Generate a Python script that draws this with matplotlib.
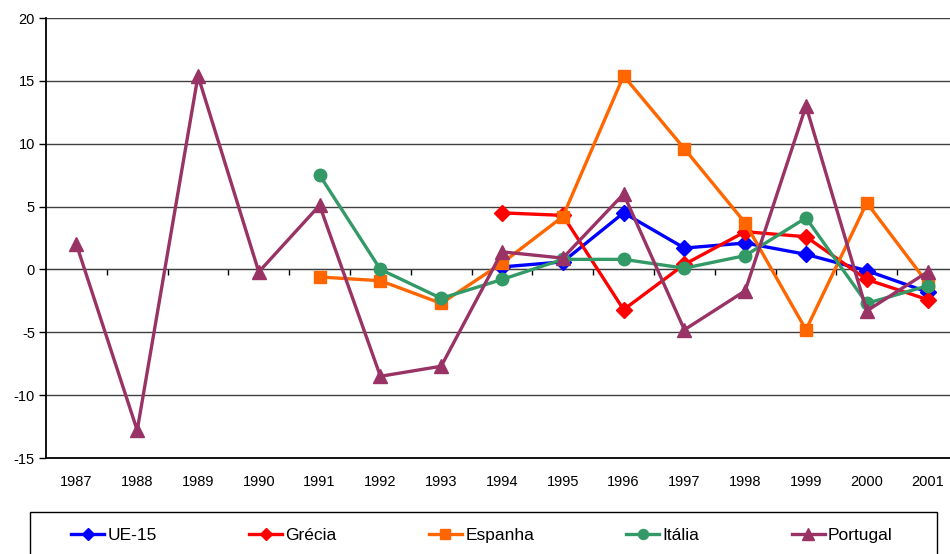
import matplotlib

matplotlib.use("Agg")
import matplotlib.pyplot as plt
import numpy as np
from matplotlib.patches import Rectangle

plt.rcParams["font.family"] = ["Liberation Sans", "DejaVu Sans"]
plt.rcParams["axes.unicode_minus"] = False

years = list(range(1987, 2002))
nan = np.nan

ue15 = [nan] * 7 + [0.2, 0.6, 4.5, 1.7, 2.1, 1.2, -0.1, -1.8]
grecia = [nan] * 7 + [4.5, 4.3, -3.2, 0.4, 3.0, 2.6, -0.8, -2.4]
espanha = [nan] * 4 + [-0.6, -0.9, -2.7, 0.5, 4.2, 15.4, 9.6, 3.7, -4.8, 5.3, -1.1]
italia = [nan] * 4 + [7.5, 0.0, -2.3, -0.8, 0.8, 0.8, 0.1, 1.1, 4.1, -2.7, -1.3]
portugal = [2.0, -12.8, 15.4, -0.2, 5.1, -8.5, -7.7, 1.4, 0.9, 6.0, -4.8, -1.7, 13.0, -3.3, -0.2]

series = [
    ("UE-15", ue15, "#0000FF", "D", 8),
    ("Grécia", grecia, "#FF0000", "D", 8),
    ("Espanha", espanha, "#FF6600", "s", 9),
    ("Itália", italia, "#339966", "o", 9),
    ("Portugal", portugal, "#993366", "^", 10),
]

fig = plt.figure(figsize=(9.5, 5.54), dpi=100)
ax = fig.add_axes([46 / 950, 1 - 458 / 554, (958 - 46) / 950, (458 - 18) / 554])

for name, vals, color, marker, ms in series:
    ax.plot(years, vals, color=color, marker=marker, markersize=ms, linewidth=2.4,
            markeredgecolor=color, label=name)

ax.set_xlim(1986.5, 2001.5)
ax.set_ylim(-15, 20)
ax.set_yticks(range(-15, 21, 5))
ax.set_xticks(years)
ax.tick_params(axis="x", length=0, labelsize=10.5, pad=12)
ax.tick_params(axis="y", length=5, width=1, labelsize=10.5, pad=3)
ax.grid(axis="y", color="#404040", linewidth=1)
ax.set_axisbelow(True)
ax.spines["top"].set_visible(False)
ax.spines["right"].set_visible(False)
ax.spines["left"].set_linewidth(1.3)
ax.spines["bottom"].set_linewidth(1.3)

# category axis crossing at zero, with boundary ticks
sec = ax.secondary_xaxis(15 / 35)
sec.set_xticks(np.arange(1987.5, 2001.5, 1.0))
sec.tick_params(axis="x", direction="out", length=4, width=1, labelbottom=False, labeltop=False)
sec.spines["bottom"].set_color("#404040")
sec.spines["top"].set_visible(False)

# legend box running off the bottom edge, as in the source
top = 1 - 512 / 554
fig.patches.append(Rectangle((30 / 950, -0.05), 907 / 950, top + 0.05, transform=fig.transFigure,
                             facecolor="white", edgecolor="black", linewidth=1.0, zorder=0))
leg = fig.legend(loc="center", bbox_to_anchor=(482 / 950, 1 - 535 / 554), ncol=5,
                 fontsize=12.5, frameon=False, handlelength=1.9, handletextpad=0.2,
                 columnspacing=5.3, markerscale=0.8)

fig.savefig("out.png", dpi=100)
